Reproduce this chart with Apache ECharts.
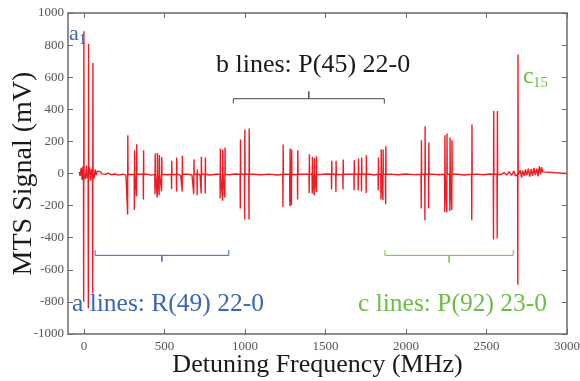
<!DOCTYPE html>
<html>
<head>
<meta charset="utf-8">
<script src="https://cdn.jsdelivr.net/npm/echarts@6/dist/echarts.min.js"></script>
<style>
html,body{margin:0;padding:0;background:#fff;}
#c{width:580px;height:381px;}
</style>
</head>
<body>
<div id="c"></div>
<script>
// ---- data ----
// absorption lines: frequency (MHz), positive lobe (mV), negative lobe (mV)
const lineFreq = [-2, 27, 54, 271, 313, 326, 369, 441, 455, 467, 482, 544, 575, 610, 682, 703, 728, 753,
  846, 861, 875, 971, 998, 1025, 1236, 1279, 1289, 1327, 1399, 1418, 1430, 1443, 1538, 1565, 1609,
  1678, 1704, 1724, 1753, 1828, 1845, 1857, 1874, 2095, 2118, 2141, 2241, 2254, 2273, 2285, 2409,
  2544, 2567, 2695];
const linePeak = [886, 809, 688, 238, 145, 182, 145, 124, 127, 115, 103, 79, 100, 110, 89, 25, 104, 100,
  155, 149, 162, 212, 274, 280, 180, 155, 149, 145, 120, 104, 97, 108, 79, 79, 87,
  83, 93, 100, 114, 100, 149, 149, 170, 207, 294, 193, 238, 249, 224, 207, 305,
  390, 390, 741];
const lineDip = [-799, -840, -747, -255, -228, -141, -162, -130, -150, -135, -110, -96, -112, -112, -127, -135, -125, -125,
  -156, -170, -150, -218, -286, -286, -208, -204, -198, -162, -121, -125, -135, -115, -100, -115, -100,
  -105, -105, -110, -121, -105, -162, -166, -191, -218, -291, -218, -241, -241, -233, -227, -291,
  -411, -405, -693];
// baseline trace (MHz, mV)
const baseFreq = [-30, -25, -18, -12, -7, 8, 14, 20, 33, 40, 46, 62, 68, 75, 82, 90, 100, 110, 120, 135, 150, 170, 190,
  215, 240, 260, 290, 340, 390, 420, 470, 520, 560, 600, 640, 670, 720, 780, 820, 900, 940, 1050, 1100, 1150,
  1200, 1260, 1310, 1370, 1460, 1500, 1590, 1640, 1690, 1780, 1800, 1900, 1950, 2000, 2050, 2170, 2200, 2320,
  2360, 2440, 2480, 2520, 2590, 2610, 2625, 2640, 2655, 2670, 2680, 2710, 2718, 2725, 2735, 2742, 2750, 2760,
  2768, 2778, 2786, 2795, 2803, 2812, 2820, 2828, 2835, 2842, 2848, 2853, 3000];
const baseVal = [10, -15, 35, -40, 45, -35, 50, -30, 40, -45, 30, -30, 25, -10, 15, 5, 12, -2, 8, -5, 2, -8, -3,
  -10, -4, -9, -6, -10, -5, -10, -4, -8, -6, -10, -5, -8, -6, -9, -5, -8, -3, -5, -8, -4,
  -9, -5, -8, -4, -7, -3, -7, -4, -8, -5, -9, -4, -8, -3, -7, -4, -8, -5,
  -9, -4, -8, -3, -7, 5, -10, 12, -12, 15, -15, 20, -25, 18, -15, 25, -10, 30,
  -20, 28, -15, 35, -10, 30, -18, 45, -5, 40, 10, 0, 0];
// bracket spans (MHz) for line groups
const groupA = [68, 899];
const groupB = [927, 1865];
const groupC = [1869, 2666];
const xTicks = [0, 500, 1000, 1500, 2000, 2500, 3000];

// ---- build trace ----
const pts = [];
for (let i = 0; i < baseFreq.length; i++) pts.push([baseFreq[i], baseVal[i]]);
for (let i = 0; i < lineFreq.length; i++) {
  const f = lineFreq[i];
  pts.push([f - 2, -5], [f - 0.6, lineDip[i]], [f + 0.6, linePeak[i]], [f + 2, -5]);
}
pts.sort((a, b) => a[0] - b[0]);

function bracket(span, yEnd, yBar, yMid) {
  const m = (span[0] + span[1]) / 2;
  return [[span[0], yEnd], [span[0], yBar], [m, yBar], [m, yMid], [m, yBar], [span[1], yBar], [span[1], yEnd]];
}

const blue = '#3a66b4', green = '#6cbd45', red = '#ed1c24';
const serif = '"Liberation Serif","DejaVu Serif",serif';
const axisCol = '#6a6a6a';
const plain = v => String(v);

const chart = echarts.init(document.getElementById('c'));
const xBase = {
  type: 'value', min: -100, max: 3000,
  axisLine: { onZero: false, lineStyle: { color: axisCol, width: 1.5 } },
  axisTick: { inside: true, length: 5, customValues: xTicks, lineStyle: { color: axisCol } },
  splitLine: { show: false }
};
const yBase = {
  type: 'value', min: -1000, max: 1000, interval: 200,
  axisLine: { show: true, onZero: false, lineStyle: { color: axisCol, width: 1.5 } },
  axisTick: { show: true, inside: true, length: 5, lineStyle: { color: axisCol } },
  splitLine: { show: false }
};
const lineSer = (data, color, width, z) => ({
  type: 'line', data, showSymbol: false, symbol: 'none', animation: false, z: z || 2,
  lineStyle: { color, width }, xAxisIndex: 0, yAxisIndex: 0
});
chart.setOption({
  animation: false,
  grid: { left: 68, right: 13, top: 13, bottom: 47, containLabel: false, outerBoundsMode: 'none' },
  xAxis: [
    Object.assign({}, xBase, {
      position: 'bottom',
      axisLabel: { customValues: xTicks, formatter: plain, color: '#555', fontFamily: serif, fontSize: 13, margin: 6 },
      name: 'Detuning Frequency (MHz)', nameLocation: 'middle', nameGap: 18, nameMoveOverlap: false,
      nameTextStyle: { fontFamily: serif, fontSize: 26, color: '#1a1a1a', verticalAlign: 'top' }
    }),
    Object.assign({}, xBase, { position: 'top', axisLabel: { show: false } })
  ],
  yAxis: [
    Object.assign({}, yBase, {
      position: 'left',
      axisLabel: { formatter: plain, color: '#555', fontFamily: serif, fontSize: 13, margin: 4 },
      name: 'MTS Signal (mV)', nameLocation: 'middle', nameGap: 30, nameMoveOverlap: false,
      nameTextStyle: { fontFamily: serif, fontSize: 28, color: '#1a1a1a' }
    }),
    Object.assign({}, yBase, { position: 'right', axisLabel: { show: false } })
  ],
  series: [
    lineSer(pts, red, 1.4, 3),
    lineSer(bracket(groupA, -477, -510, -550), blue, 1, 2),
    lineSer(bracket(groupB, 436, 466, 512), '#444', 1, 2),
    lineSer(bracket(groupC, -477, -510, -554), green, 1, 2)
  ],
  graphic: [
    { type: 'text', left: 69, top: 23, style: { text: 'a', font: '22px ' + serif, fill: blue } },
    { type: 'text', left: 79, top: 33, style: { text: '1', font: '14px ' + serif, fill: blue } },
    { type: 'text', left: 523, top: 65, style: { text: 'c', font: '24px ' + serif, fill: green } },
    { type: 'text', left: 533, top: 76, style: { text: '15', font: '15px ' + serif, fill: green } },
    { type: 'text', left: 216, top: 52, style: { text: 'b lines: P(45) 22-0', font: '26px ' + serif, fill: '#1a1a1a' } },
    { type: 'text', left: 72, top: 291, style: { text: 'a lines: R(49) 22-0', font: '25.5px ' + serif, fill: blue } },
    { type: 'text', left: 358, top: 291, style: { text: 'c lines: P(92) 23-0', font: '25.5px ' + serif, fill: green } }
  ]
});
</script>
</body>
</html>
